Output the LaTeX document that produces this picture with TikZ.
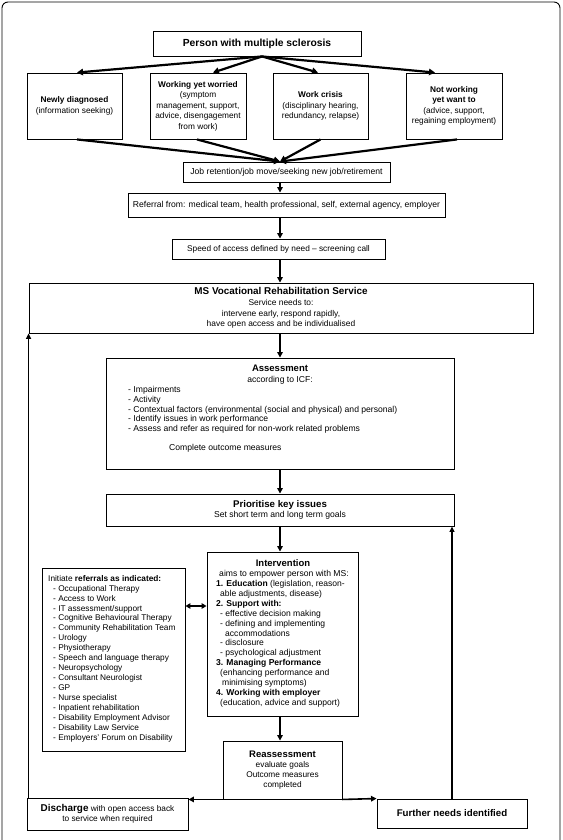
\documentclass[tikz,border=0pt]{standalone}
\usepackage{fontspec}
\setmainfont{Liberation Sans}
\usetikzlibrary{arrows.meta,calc}
\begin{document}
\begin{tikzpicture}[x=1pt,y=-1pt,
  box/.style={draw, line width=0.9pt, fill=white, inner sep=0pt, align=center},
  txt/.style={inner sep=0pt, align=left, anchor=north west},
  plain/.style={inner sep=0pt, align=center},
  smalltext/.style={font=\fontsize{8.3}{10.5}\selectfont},
  midtext/.style={font=\fontsize{8.6}{10.5}\selectfont},
  headtext/.style={font=\bfseries\fontsize{9.5}{11}\selectfont},
  arr/.style={line width=1.6pt, -{Triangle[length=5.5pt,width=5.5pt]}},
  fan/.style={line width=2.2pt, -{Triangle[length=6pt,width=6.5pt]}},
  loopline/.style={line width=1.4pt, -{Triangle[length=5.5pt,width=5pt]}},
  both/.style={line width=1.6pt, {Triangle[length=5pt,width=5.5pt]}-{Triangle[length=5pt,width=5.5pt]}},
]
\useasboundingbox (0,0) rectangle (562,840);
\fill[white] (0,0) rectangle (562,840);
\draw[line width=0.9pt, rounded corners=6pt] (2,840) -- (2,2) -- (560,2) -- (560,840);

\coordinate (axis) at (280,0);
\coordinate (dbl) at (196,606);

% top
\node[box, minimum width=208pt, minimum height=25pt, font=\bfseries\fontsize{10.3}{12}\selectfont] (person) at (257,43.5) {Person with multiple sclerosis};

\node[box, minimum width=95pt, minimum height=66pt, smalltext] (b1) at (74.5,106)
  {\textbf{Newly diagnosed}\\(information seeking)};
\node[box, minimum width=96pt, minimum height=66pt, smalltext] (b2) at (198,106)
  {\textbf{Working yet worried}\\(symptom\\management, support,\\advice, disengagement\\from work)};
\node[box, minimum width=95pt, minimum height=66pt, smalltext] (b3) at (320.5,106)
  {\textbf{Work crisis}\\(disciplinary hearing,\\redundancy, relapse)};
\node[box, minimum width=96pt, minimum height=66pt, smalltext] (b4) at (454,106)
  {\textbf{Not working}\\\textbf{yet want to}\\(advice, support,\\regaining employment)};

\node[box, minimum width=207pt, minimum height=20pt, midtext] (job) at (286.5,172)
  {Job retention/job move/seeking new job/retirement};
\node[box, minimum width=317pt, minimum height=24pt, midtext] (referral) at (286.5,205)
  {Referral from: medical team, health professional, self, external agency, employer};
\node[box, minimum width=213pt, minimum height=20pt, smalltext] (speed) at (278.5,249)
  {Speed of access defined by need -- screening call};

\node[box, minimum width=504pt, minimum height=50pt, font=\fontsize{8.4}{10.7}\selectfont] (ms) at (281,308)
  {{\bfseries\fontsize{9.9}{10.7}\selectfont MS Vocational Rehabilitation Service}\\Service needs to:\\intervene early, respond rapidly,\\have open access and be individualised};

% assessment
\node[box, minimum width=348pt, minimum height=111pt] (assess) at (280,413.5) {};
\node[plain, headtext] (assesst) at (280,368) {Assessment};
\node[plain, midtext] (assessicf) at (280,380) {according to ICF:};
\node[txt, font=\fontsize{8.6}{9.8}\selectfont] (assessl) at (128,386)
  {- Impairments\\- Activity\\- Contextual factors (environmental (social and physical) and personal)\\- Identify issues in work performance\\- Assess and refer as required for non-work related problems};
\node[plain, anchor=west, midtext] (assessc) at (169,448) {Complete outcome measures};

% prioritise
\node[box, minimum width=348pt, minimum height=32pt, midtext] (prior) at (280,510)
  {{\bfseries\fontsize{9.7}{10.5}\selectfont Prioritise key issues}\\Set short term and long term goals};

% intervention
\node[box, minimum width=151pt, minimum height=164pt] (interv) at (282.5,634) {};
\node[plain, headtext] (intervt) at (283,563) {Intervention};
\node[plain, midtext] (interva) at (284,574) {aims to empower person with MS:};
\node[txt, font=\fontsize{8.55}{9.92}\selectfont] (intervl) at (216,580)
  {\textbf{1. Education} (legislation, reason-\\
   \hspace*{4pt}able adjustments, disease)\\
   \textbf{2. Support with:}\\
   \hspace*{4pt}- effective decision making\\
   \hspace*{4pt}- defining and implementing\\
   \hspace*{9pt}accommodations\\
   \hspace*{4pt}- disclosure\\
   \hspace*{4pt}- psychological adjustment\\
   \textbf{3. Managing Performance}\\
   \hspace*{4pt}(enhancing performance and\\
   \hspace*{6pt}minimising symptoms)\\
   \textbf{4. Working with employer}\\
   \hspace*{4pt}(education, advice and support)};

% referrals
\node[box, minimum width=143pt, minimum height=183pt] (refs) at (113.5,659.5) {};
\node[txt, font=\fontsize{8.3}{9.93}\selectfont] (refsl) at (48,575)
  {Initiate \textbf{referrals as indicated:}\\
   \hspace*{5pt}- Occupational Therapy\\
   \hspace*{5pt}- Access to Work\\
   \hspace*{5pt}- IT assessment/support\\
   \hspace*{5pt}- Cognitive Behavioural Therapy\\
   \hspace*{5pt}- Community Rehabilitation Team\\
   \hspace*{5pt}- Urology\\
   \hspace*{5pt}- Physiotherapy\\
   \hspace*{5pt}- Speech and language therapy\\
   \hspace*{5pt}- Neuropsychology\\
   \hspace*{5pt}- Consultant Neurologist\\
   \hspace*{5pt}- GP\\
   \hspace*{5pt}- Nurse specialist\\
   \hspace*{5pt}- Inpatient rehabilitation\\
   \hspace*{5pt}- Disability Employment Advisor\\
   \hspace*{5pt}- Disability Law Service\\
   \hspace*{5pt}- Employers' Forum on Disability};

% reassessment and exits
\node[box, minimum width=119pt, minimum height=58pt, font=\fontsize{8.3}{10}\selectfont] (reass) at (282.5,770)
  {{\bfseries\fontsize{9.5}{10}\selectfont Reassessment}\\evaluate goals\\Outcome measures\\completed};
\node[box, minimum width=150pt, minimum height=29pt, font=\bfseries\fontsize{9.7}{11}\selectfont] (further) at (452,813.5)
  {Further needs identified};
\node[box, minimum width=161pt, minimum height=32pt, font=\fontsize{8.3}{10}\selectfont] (discharge) at (107.5,814)
  {{\bfseries\fontsize{9.9}{10}\selectfont Discharge} with open access back\\to service when required};

% connectors
\draw[fan] ([xshift=5pt]person.south) -- ([xshift=2.5pt]b1.north);
\draw[fan] ([xshift=5pt]person.south) -- ([xshift=15pt]b2.north);
\draw[fan] ([xshift=5pt]person.south) -- ([xshift=-2.5pt]b3.north);
\draw[fan] ([xshift=5pt]person.south) -- ([xshift=-19pt]b4.north);

\draw[fan] ([xshift=2.5pt]b1.south) -- (job.north -| axis);
\draw[fan] ([xshift=-1pt]b2.south) -- (job.north -| axis);
\draw[fan] (b3.south) -- (job.north -| axis);
\draw[fan] ([xshift=3pt]b4.south) -- (job.north -| axis);

\draw[arr] (job.south -| axis) -- (referral.north -| axis);
\draw[arr] (referral.south -| axis) -- (speed.north -| axis);
\draw[arr] (speed.south -| axis) -- (ms.north -| axis);
\draw[arr] (ms.south -| axis) -- (assess.north -| axis);
\draw[arr] (assess.south -| axis) -- (prior.north -| axis);
\draw[arr] (prior.south -| axis) -- (interv.north -| axis);
\draw[arr] (interv.south -| axis) -- (reass.north -| axis);
\draw[both] (refs.east |- dbl) -- (interv.west |- dbl);

\draw[arr] (reass.south east) -- (further.north west);
\draw[arr] (reass.south west) -- (reass.south west -| discharge.east);
\draw[loopline] (discharge.north -| ms.south west) -- (ms.south west);
\draw[loopline] (further.north) -- (further.north |- prior.south);
\end{tikzpicture}
\end{document}
